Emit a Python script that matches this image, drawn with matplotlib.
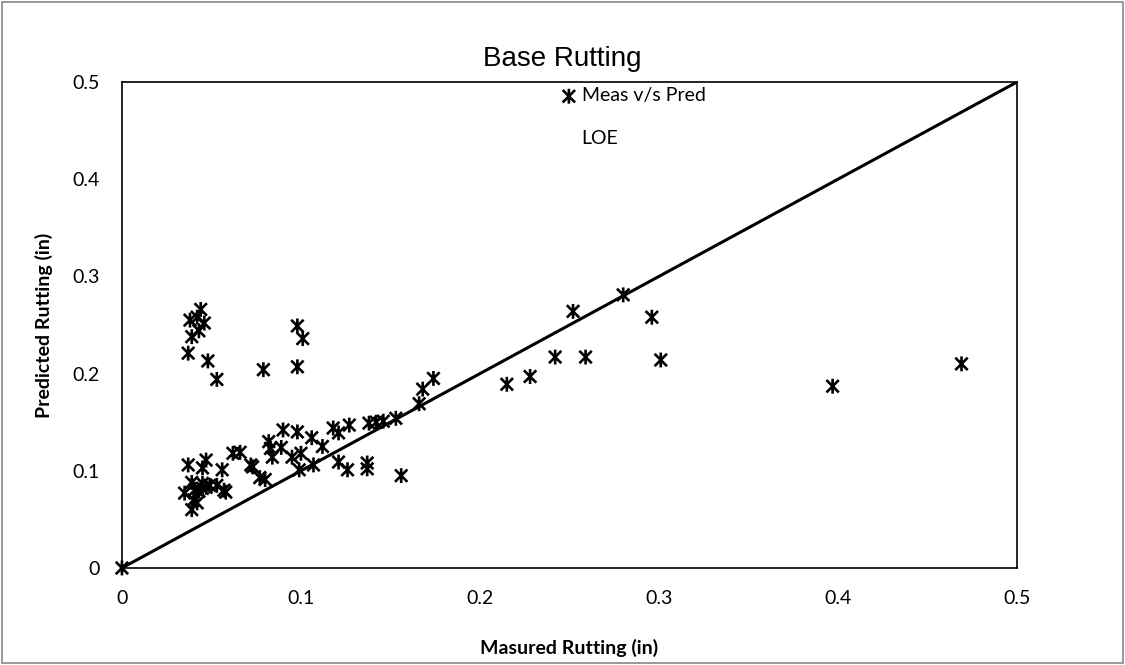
import matplotlib
matplotlib.use("Agg")
import matplotlib.pyplot as plt
from matplotlib.path import Path
from matplotlib.lines import Line2D
from matplotlib.patches import Rectangle

# ── Data ────────────────────────────────────────────────────
meas = [0.037, 0.038, 0.039, 0.042, 0.043, 0.044, 0.046, 0.048, 0.053,
        0.079, 0.098, 0.098, 0.101,
        0.035, 0.037, 0.039, 0.039, 0.040, 0.042, 0.045, 0.045, 0.045, 0.047,
        0.047, 0.049, 0.053, 0.043, 0.041, 0.056, 0.058, 0.057, 0.062, 0.066,
        0.072, 0.073, 0.077, 0.080, 0.082, 0.083, 0.084, 0.089, 0.090, 0.095,
        0.100, 0.098, 0.099, 0.106, 0.107, 0.112, 0.118, 0.121, 0.121, 0.126,
        0.127, 0.137, 0.137, 0.138, 0.142, 0.146, 0.153, 0.156, 0.166, 0.168,
        0.174,
        0.215, 0.228, 0.242, 0.252, 0.259, 0.280, 0.296, 0.301, 0.397, 0.469,
        0.0]
pred = [0.221, 0.255, 0.238, 0.258, 0.244, 0.266, 0.252, 0.213, 0.194,
        0.204, 0.207, 0.249, 0.236,
        0.077, 0.106, 0.088, 0.060, 0.070, 0.067, 0.103, 0.087, 0.082, 0.111,
        0.083, 0.085, 0.085, 0.079, 0.081, 0.101, 0.078, 0.080, 0.118, 0.119,
        0.106, 0.104, 0.093, 0.091, 0.130, 0.123, 0.114, 0.124, 0.142, 0.114,
        0.118, 0.140, 0.101, 0.134, 0.106, 0.125, 0.144, 0.139, 0.109, 0.101,
        0.147, 0.108, 0.102, 0.149, 0.150, 0.151, 0.154, 0.095, 0.169, 0.184,
        0.195,
        0.189, 0.197, 0.217, 0.264, 0.217, 0.281, 0.258, 0.214, 0.187, 0.210,
        0.0]
loe = [0.0, 0.5]

TICKS = [0, 0.1, 0.2, 0.3, 0.4, 0.5]
TICK_LABELS = ["0", "0.1", "0.2", "0.3", "0.4", "0.5"]

FONT = "Lato"

# Excel-style asterisk marker: an "x" with a vertical stroke
star = Path([(-1, -1), (1, 1), (-1, 1), (1, -1), (0, -1.2), (0, 1.2)],
            [Path.MOVETO, Path.LINETO, Path.MOVETO, Path.LINETO,
             Path.MOVETO, Path.LINETO])

fig = plt.figure(figsize=(11.25, 6.65), dpi=100)
ax = fig.add_axes([0.1084, 0.1459, 0.7956, 0.7308])

sc = ax.scatter(meas, pred, marker=star, s=115, facecolors="none",
                edgecolors="black", linewidths=1.9, zorder=3, clip_on=False,
                label="Meas v/s Pred")
ax.plot(loe, loe, color="black", lw=2.2, zorder=2)

ax.set_xlim(0, 0.5)
ax.set_ylim(0, 0.5)
ax.set_xticks(TICKS)
ax.set_xticklabels(TICK_LABELS)
ax.set_yticks(TICKS)
ax.set_yticklabels(TICK_LABELS)
ax.tick_params(length=0, pad=16, labelsize=14)
for lab in ax.get_xticklabels() + ax.get_yticklabels():
    lab.set_family(FONT)
for sp in ax.spines.values():
    sp.set_color("black")
    sp.set_linewidth(1.2)

ax.set_xlabel("Masured Rutting (in)", fontsize=14, fontweight="bold",
              family=FONT, labelpad=23)
ax.set_ylabel("Predicted Rutting (in)", fontsize=14, fontweight="bold",
              family=FONT, labelpad=14)

fig.text(0.5, 0.912, "Base Rutting", ha="center", va="center",
         fontsize=20, family="Liberation Sans")

handles = [sc, Line2D([], [], color="none")]
ax.legend(handles, ["Meas v/s Pred", "LOE"], loc="upper left",
          bbox_to_anchor=(0.47, 1.025), frameon=False, handlelength=0.9,
          handletextpad=0.2, labelspacing=1.3,
          prop={"family": FONT, "size": 14})

# chart-area border
fig.patches.append(Rectangle((0.002, 0.003), 0.996, 0.994, transform=fig.transFigure,
                             fill=False, edgecolor="#888888", lw=1.2))

fig.savefig("out.png", dpi=100)
